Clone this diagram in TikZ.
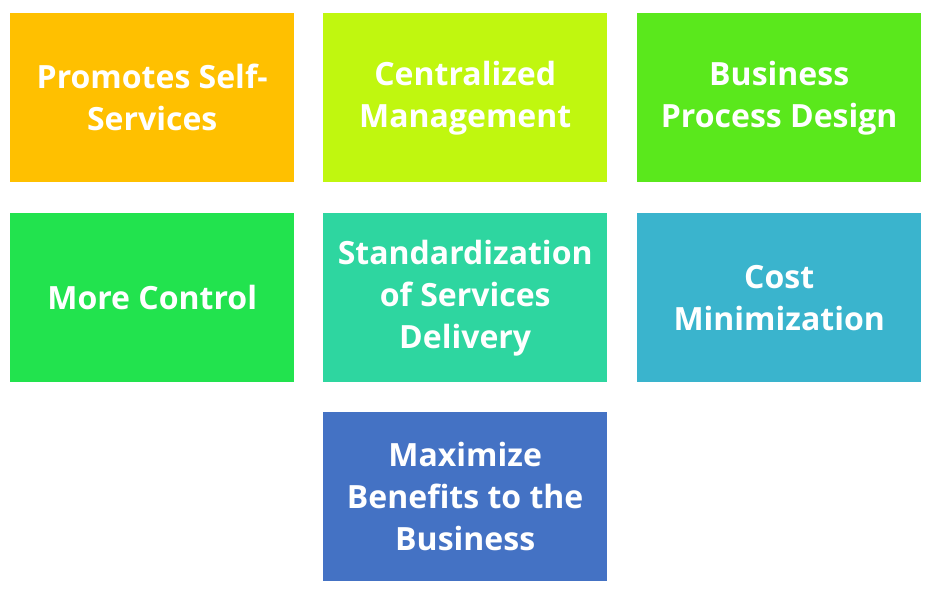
\documentclass[tikz,border=0pt]{standalone}
\usepackage{fontspec}
\setmainfont{Open Sans}
\definecolor{cA}{HTML}{FFC000}
\definecolor{cB}{HTML}{C0F70F}
\definecolor{cC}{HTML}{5AE81C}
\definecolor{cD}{HTML}{22E34E}
\definecolor{cE}{HTML}{2ED6A0}
\definecolor{cF}{HTML}{3AB4CD}
\definecolor{cG}{HTML}{4472C4}
\begin{document}
\begin{tikzpicture}[x=1pt,y=-1pt,
  card/.style={minimum width=284pt,minimum height=169pt,inner sep=0pt,draw=none,
    text=white,align=center,font=\fontsize{32}{42}\selectfont\bfseries,anchor=north west}]
\useasboundingbox (0,0) rectangle (930,591);
\node[card,fill=cA] (a) at (10,13) {Promotes Self-\\Services};
\node[card,fill=cB] (b) at (323,13) {Centralized\\Management};
\node[card,fill=cC] (c) at (637,13) {Business\\Process Design};
\node[card,fill=cD] (d) at (10,213) {More Control};
\node[card,fill=cE] (e) at (323,213) {Standardization\\of Services\\Delivery};
\node[card,fill=cF] (f) at (637,213) {Cost\\Minimization};
\node[card,fill=cG] (g) at (323,412) {Maximize\\Benefits to the\\Business};
\end{tikzpicture}
\end{document}
